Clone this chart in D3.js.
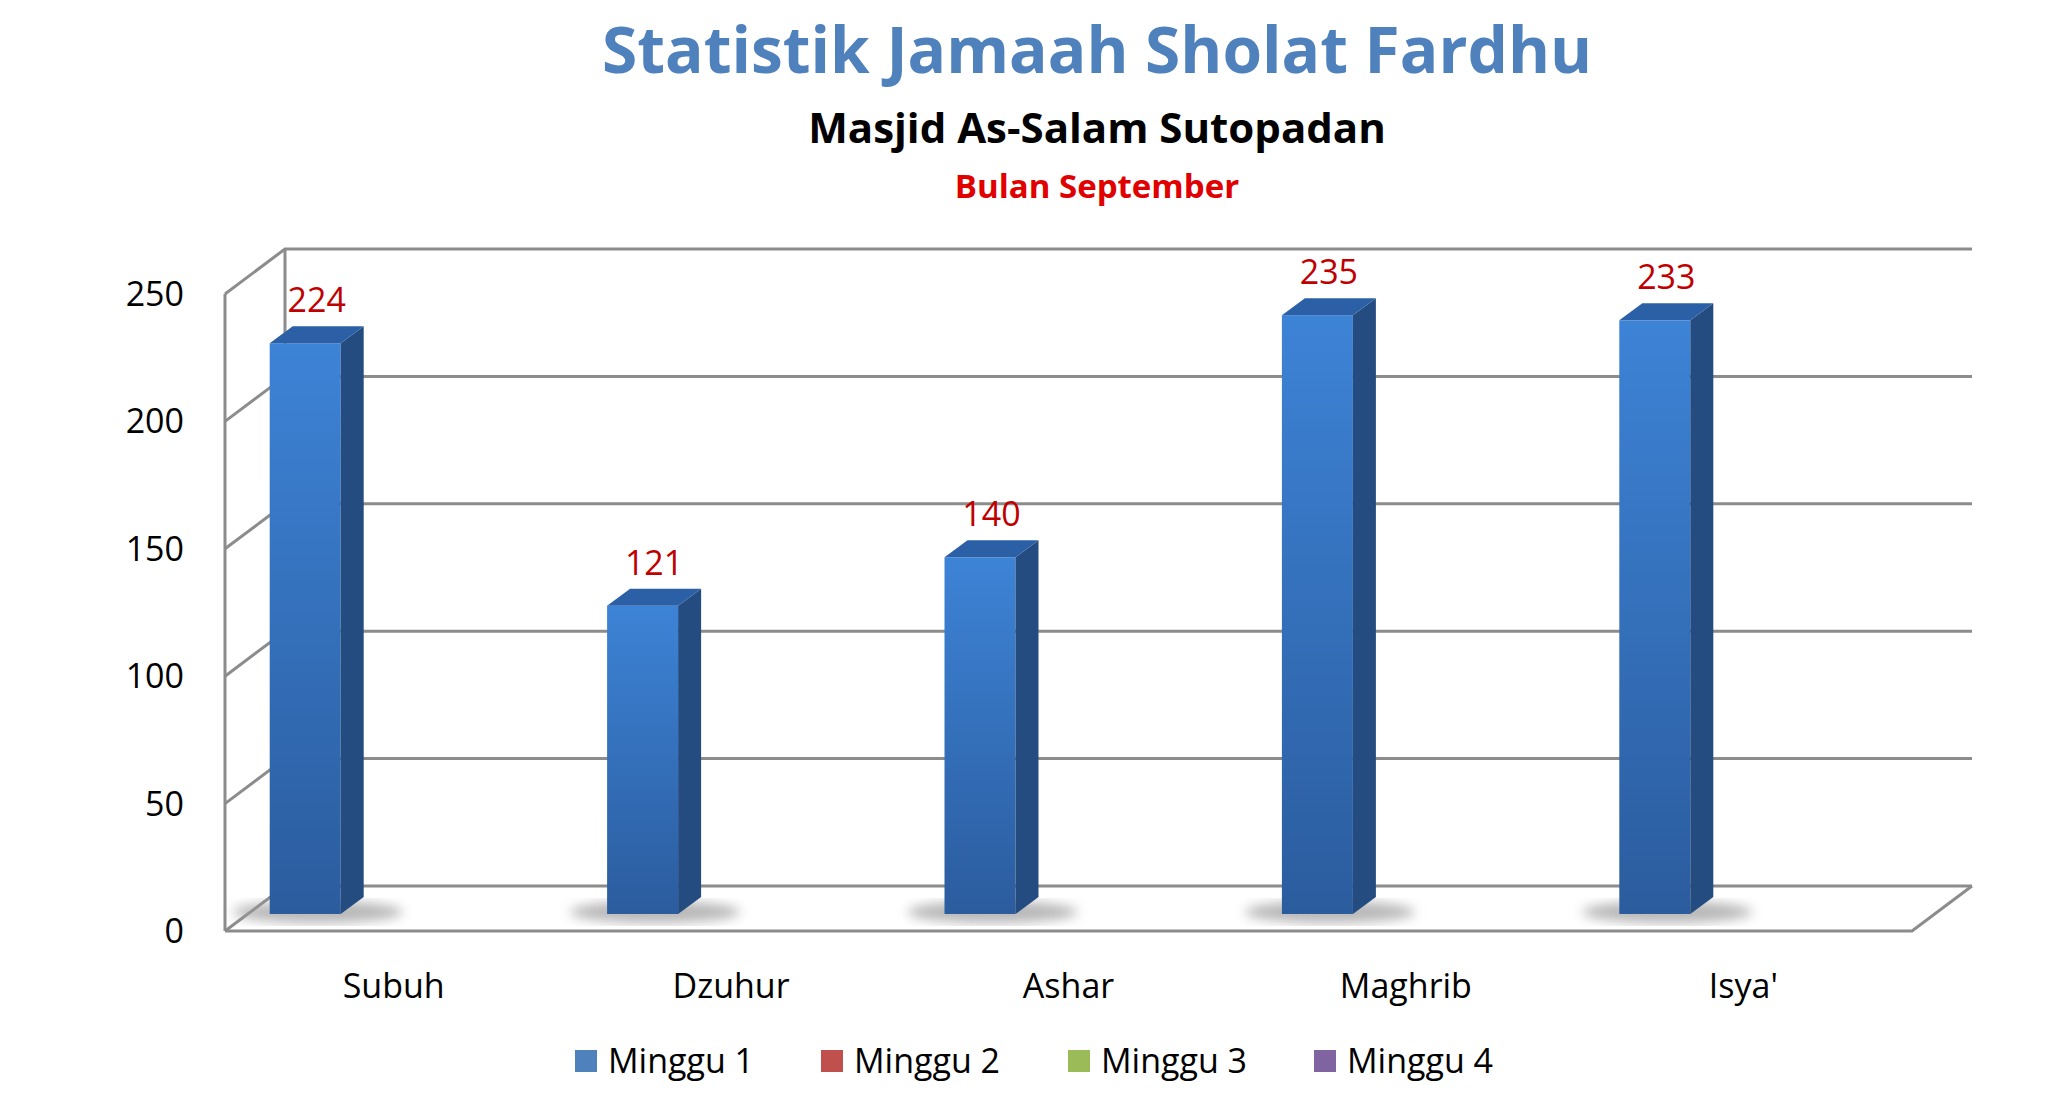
<!DOCTYPE html>
<html><head><meta charset="utf-8">
<script src="https://cdn.jsdelivr.net/npm/d3@7"></script>
<style>body{margin:0;background:#fff}text{font-family:"Open Sans",sans-serif}</style>
</head><body><div id="chart-area"></div>
<script>
var categories = ["Subuh", "Dzuhur", "Ashar", "Maghrib", "Isya'"];
var values = [224, 121, 140, 235, 233];
var yTicks = [0, 50, 100, 150, 200, 250];
var legendLabels = ["Minggu 1", "Minggu 2", "Minggu 3", "Minggu 4"];
var legendColors = ["#4f81bd", "#c0504d", "#9bbb59", "#8064a2"];

var dim = {width: 2056, height: 1097, left: 225, right: 1912, zero: 931, top: 294, dx: 60, dy: -45};

var svg = d3.select("#chart-area").append("svg")
    .attr("width", dim.width).attr("height", dim.height);
var defs = svg.append("defs");

var front = defs.append("linearGradient").attr("id", "frontGrad")
    .attr("x1", 0).attr("y1", 0).attr("x2", 0).attr("y2", 1);
front.append("stop").attr("offset", "0%").attr("stop-color", "#3d83d6");
front.append("stop").attr("offset", "100%").attr("stop-color", "#2b5c9e");
defs.append("filter").attr("id", "blur").append("feGaussianBlur").attr("stdDeviation", 6);

var x = d3.scaleBand().domain(categories).range([dim.left, dim.right]);
var y = d3.scaleLinear().domain([0, 250]).range([dim.zero, dim.top]);

// titles
svg.append("text").attr("x", 1097).attr("y", 73).attr("text-anchor", "middle")
    .attr("font-size", 64).attr("font-weight", "bold").attr("fill", "#4f81bd")
    .text("Statistik Jamaah Sholat Fardhu");
svg.append("text").attr("x", 1097).attr("y", 143).attr("text-anchor", "middle")
    .attr("font-size", 42).attr("font-weight", "bold").attr("fill", "#000")
    .text("Masjid As-Salam Sutopadan");
svg.append("text").attr("x", 1097).attr("y", 198).attr("text-anchor", "middle")
    .attr("font-size", 33).attr("font-weight", "bold").attr("fill", "#e00000")
    .text("Bulan September");

// walls and grid
var grid = svg.append("g").attr("stroke", "#8c8c8c").attr("stroke-width", 3).attr("fill", "none");
yTicks.forEach(function (t) {
    var yy = y(t);
    grid.append("polyline").attr("points", [
        [dim.left, yy], [dim.left + dim.dx, yy + dim.dy], [dim.right + dim.dx, yy + dim.dy]
    ].join(" "));
});
grid.append("line").attr("x1", dim.left).attr("y1", y(0)).attr("x2", dim.left).attr("y2", y(250));
grid.append("line").attr("x1", dim.left + dim.dx).attr("y1", y(0) + dim.dy)
    .attr("x2", dim.left + dim.dx).attr("y2", y(250) + dim.dy);
grid.append("polyline").attr("points", [
    [dim.left, y(0)], [dim.right, y(0)], [dim.right + dim.dx, y(0) + dim.dy]
].join(" "));

// y labels
svg.append("g").selectAll("text").data(yTicks).enter().append("text")
    .attr("x", 184).attr("y", function (t) { return y(t) + 12; })
    .attr("text-anchor", "end").attr("font-size", 34).attr("fill", "#000")
    .text(function (t) { return t; });

// bars
var barW = 71, bdx = 23, bdy = -17, zeroBar = dim.zero - 17, unit = (dim.zero - dim.top) / 250;
var bars = svg.append("g").selectAll("g").data(values).enter().append("g")
    .attr("transform", function (d, i) {
        return "translate(" + (x(categories[i]) + x.bandwidth() / 2 - 124) + ",0)";
    });
bars.append("ellipse").attr("cx", 48).attr("cy", zeroBar - 2).attr("rx", 85).attr("ry", 11)
    .attr("fill", "#999").attr("opacity", 0.7).attr("filter", "url(#blur)");
bars.append("rect").attr("x", 0).attr("width", barW)
    .attr("y", function (d) { return zeroBar - d * unit; })
    .attr("height", function (d) { return d * unit; })
    .attr("fill", "url(#frontGrad)");
bars.append("path").attr("fill", "#244c80").attr("d", function (d) {
    var t = zeroBar - d * unit;
    return "M" + barW + "," + t + "L" + (barW + bdx) + "," + (t + bdy) + "L" + (barW + bdx) + "," + (zeroBar + bdy) + "L" + barW + "," + zeroBar + "Z";
});
bars.append("path").attr("fill", "#2c60a6").attr("d", function (d) {
    var t = zeroBar - d * unit;
    return "M0," + t + "L" + bdx + "," + (t + bdy) + "L" + (barW + bdx) + "," + (t + bdy) + "L" + barW + "," + t + "Z";
});
bars.append("text").attr("x", (barW + bdx) / 2)
    .attr("y", function (d) { return zeroBar - d * unit + bdy - 14; })
    .attr("text-anchor", "middle").attr("font-size", 34).attr("fill", "#c00000")
    .text(function (d) { return d; });

// category labels
svg.append("g").selectAll("text").data(categories).enter().append("text")
    .attr("x", function (c) { return x(c) + x.bandwidth() / 2; })
    .attr("y", 998).attr("text-anchor", "middle").attr("font-size", 34).attr("fill", "#000")
    .text(function (c) { return c; });

// legend
var legendX = [575, 821, 1068, 1314];
var legend = svg.append("g").selectAll("g").data(legendLabels).enter().append("g")
    .attr("transform", function (d, i) { return "translate(" + legendX[i] + ",1061)"; });
legend.append("rect").attr("x", 0).attr("y", -11).attr("width", 22).attr("height", 22)
    .attr("fill", function (d, i) { return legendColors[i]; });
legend.append("text").attr("x", 33).attr("y", 12).attr("font-size", 34).attr("fill", "#000")
    .text(function (d) { return d; });
</script></body></html>
